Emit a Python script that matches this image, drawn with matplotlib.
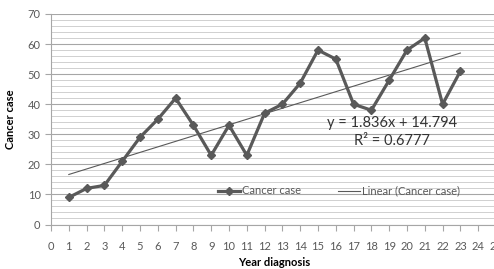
import numpy as np
import matplotlib
matplotlib.use("Agg")
import matplotlib.pyplot as plt
from matplotlib.ticker import MultipleLocator

plt.rcParams["font.family"] = ["Lato", "DejaVu Sans"]

# ==== Data ====
years = list(range(1, 24))
cases = [9, 12, 13, 21, 29, 35, 42, 33, 23, 33, 23, 37, 40, 47, 58, 55, 40, 38, 48, 58, 62, 40, 51]
slope, intercept = 1.836, 14.794
r2 = 0.6777

W, H = 494, 269
fig = plt.figure(figsize=(W / 100, H / 100), dpi=100)
# plot area: x 0 at px 51, ~17.8 px per year; y 0 at px 224, 70 at px 14
ax = fig.add_axes([51 / W, 1 - 224.5 / H, 26 * 17.8 / W, 210.5 / H])

ax.plot(years, cases, color="#595959", lw=2.3, marker="D", ms=4.5,
        label="Cancer case", zorder=3)
xs = np.array([years[0], years[-1]])
ax.plot(xs, slope * xs + intercept, color="#595959", lw=0.8,
        label="Linear (Cancer case)", zorder=2)

ax.set_xlim(0, 26)
ax.set_ylim(0, 70)
ax.xaxis.set_major_locator(MultipleLocator(1))
ax.yaxis.set_major_locator(MultipleLocator(10))
ax.yaxis.set_minor_locator(MultipleLocator(2))
ax.grid(True, which="major", axis="y", color="#a6a6a6", lw=0.8)
ax.grid(True, which="minor", axis="y", color="#d0d0d0", lw=0.7)
ax.set_axisbelow(True)

for s in ["top", "right"]:
    ax.spines[s].set_visible(False)
ax.spines["left"].set_color("#a6a6a6")
ax.spines["bottom"].set_color("#a6a6a6")
ax.tick_params(axis="both", which="major", colors="#a6a6a6", labelcolor="#595959",
               labelsize=8, length=4)
ax.tick_params(axis="y", which="minor", length=0)
ax.tick_params(axis="x", pad=8)

ax.set_xlabel("Year diagnosis", fontsize=8, fontweight="bold")
ax.xaxis.set_label_coords((274 - 51) / (26 * 17.8), -(263 - 224.5) / 210.5)
ax.xaxis.label.set_va("center")
ax.set_ylabel("Cancer case", fontsize=8, fontweight="bold", labelpad=8)

fig.text(392 / W, 1 - 132 / H, f"y = {slope}x + {intercept}\nR² = {r2}",
         ha="center", va="center", fontsize=10.5, color="#333333", linespacing=1.45)

ax.legend(loc="center", bbox_to_anchor=(339 / W, 1 - 191 / H), bbox_transform=fig.transFigure,
          ncol=2, frameon=False, fontsize=8, labelcolor="#595959",
          handlelength=2.0, columnspacing=3.3, handletextpad=0.2)

plt.savefig("out.png", dpi=100)
plt.close()
